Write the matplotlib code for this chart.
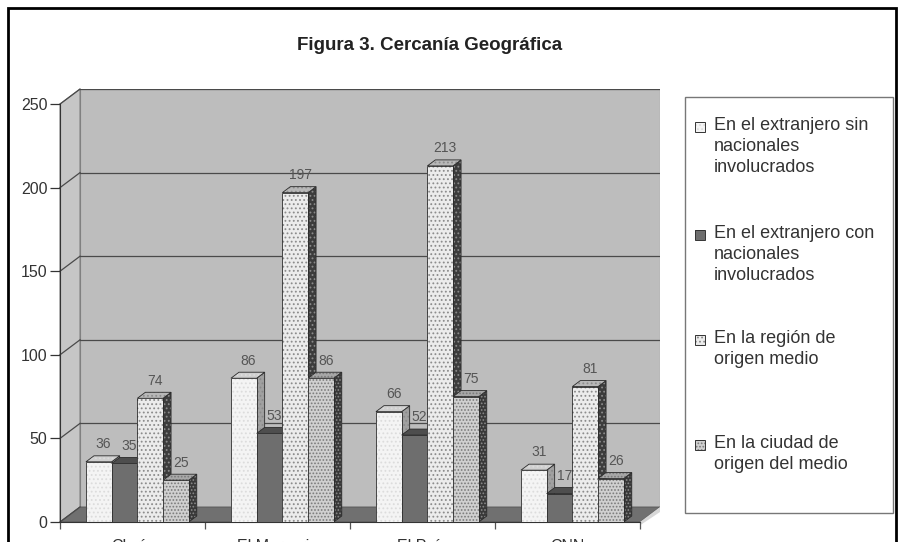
import matplotlib
matplotlib.use("Agg")
import matplotlib.pyplot as plt
from matplotlib.patches import Polygon, Rectangle

plt.rcParams["font.family"] = ["Liberation Sans", "DejaVu Sans"]
plt.rcParams["hatch.linewidth"] = 0.8

# ------------------ data ------------------
title = "Figura 3. Cercanía Geográfica"
categories = ["Clarín", "El Mercurio", "El País", "CNN"]
series_names = [
    "En el extranjero sin\nnacionales\ninvolucrados",
    "En el extranjero con\nnacionales\ninvolucrados",
    "En la región de\norigen medio",
    "En la ciudad de\norigen del medio",
]
sin_nacionales = [36, 86, 66, 31]
con_nacionales = [35, 53, 52, 17]
region_origen = [74, 197, 213, 81]
ciudad_origen = [25, 86, 75, 26]
values = [sin_nacionales, con_nacionales, region_origen, ciudad_origen]
yticks = [0, 50, 100, 150, 200, 250]

# ------------------ styles ------------------
# (front, hatch, hatch colour, side, top)
styles = [
    ("#f4f4f4", "....", "#dcdcdc", "#a0a0a0", "#cfcfcf"),
    ("#6e6e6e", None, None, "#3a3a3a", "#4e4e4e"),
    ("#ececec", "....", "#8c8c8c", "#3c3c3c", "#b8b8b8"),
    ("#d0d0d0", ".....", "#7a7a7a", "#383838", "#a8a8a8"),
]

W, H = 900, 542
fig = plt.figure(figsize=(W / 100, H / 100), dpi=100)

# axes: front axis from x=60..660px, value 0 at y=522px
ax = fig.add_axes([60 / W, 20 / H, 600 / W, 433 / H])
WDX, WDY = 20 / 145, 15 / 1.672   # wall depth offset (cat units, value units)
BDX, BDY = 8 / 145, 6 / 1.672     # bar depth offset
BW = 25.7 / 145                   # bar width
GSTART = 0.179                    # first bar offset in each group
ncat = len(categories)
ax.set_xlim(0, ncat + WDX)
ax.set_ylim(0, 259)

# back wall
ax.add_patch(Rectangle((WDX, WDY), ncat, 250, facecolor="#bdbdbd",
                       edgecolor="#808080", lw=0.8, zorder=0))
# left side wall
ax.add_patch(Polygon([(0, 0), (WDX, WDY), (WDX, 250 + WDY), (0, 250)],
                     closed=True, facecolor="#c6c6c6", edgecolor="#808080",
                     lw=0.8, zorder=0.5, clip_on=False))
# floor
ax.add_patch(Polygon([(0, 0), (ncat, 0), (ncat + WDX, WDY), (WDX, WDY)],
                     closed=True, facecolor="#707070", edgecolor="#555555",
                     lw=0.6, zorder=0.6))
ax.add_patch(Polygon([(ncat, 0), (ncat + WDX, WDY), (ncat + WDX, WDY - 3), (ncat, -2)],
                     closed=True, facecolor="#d8d8d8", edgecolor="none",
                     zorder=0.6, clip_on=False))

# gridlines on the wall + diagonal connectors on the side wall
for v in yticks[1:]:
    ax.plot([WDX, ncat + WDX], [v + WDY, v + WDY], color="#4a4a4a", lw=0.9, zorder=0.7)
for v in yticks:
    ax.plot([0, WDX], [v, v + WDY], color="#4a4a4a", lw=0.9, zorder=0.7, clip_on=False)


def face(pts, fc, hatch, hc, z):
    ax.add_patch(Polygon(pts, closed=True, facecolor=fc, edgecolor=hc if hatch else fc,
                         lw=0, hatch=hatch, zorder=z))
    ax.add_patch(Polygon(pts, closed=True, fill=False, edgecolor="#2a2a2a",
                         lw=0.6, zorder=z + 0.01))


z = 2
for g in range(ncat):
    for s in range(len(values)):
        h = values[s][g]
        fc, hatch, hc, side, top = styles[s]
        x0 = g + GSTART + s * BW
        x1 = x0 + BW
        face([(x1, 0), (x1 + BDX, BDY), (x1 + BDX, h + BDY), (x1, h)],
             side, hatch, "#8a8a8a" if hatch else None, z)
        face([(x0, h), (x1, h), (x1 + BDX, h + BDY), (x0 + BDX, h + BDY)],
             top, hatch, hc, z + 0.1)
        face([(x0, 0), (x1, 0), (x1, h), (x0, h)], fc, hatch, hc, z + 0.2)
        ax.text(x0 + BW / 2 + BDX * 0.6, h + BDY + 7, str(h), ha="center",
                va="center", fontsize=10, color="#555555", zorder=z + 0.5)
        z += 1

# axes / ticks
for sp in ["top", "right"]:
    ax.spines[sp].set_visible(False)
ax.spines["left"].set_bounds(0, 250)
ax.spines["bottom"].set_bounds(0, ncat)
ax.spines["left"].set_color("#333333")
ax.spines["bottom"].set_color("#333333")
ax.spines["left"].set_zorder(1)
ax.set_yticks(yticks)
ax.set_yticklabels([str(v) for v in yticks], fontsize=11.5, color="#333333")
ax.tick_params(axis="y", length=7, width=0.9, color="#333333", pad=2)
ax.set_xticks([g + 0.5 for g in range(ncat)])
ax.set_xticklabels(categories, fontsize=11.5, color="#333333")
ax.set_xticks(list(range(ncat + 1)), minor=True)
ax.tick_params(axis="x", which="major", length=0, pad=12.5)
ax.tick_params(axis="x", which="minor", length=5, width=0.9, color="#555555")

# title
fig.text(297 / W, 1 - 46 / H, title, ha="left", va="center",
         fontsize=13.5, fontweight="bold", color="#222222")

# legend box (manual)
fig.add_artist(Rectangle((685 / W, 1 - 513 / H), 208 / W, 416 / H,
                         transform=fig.transFigure, facecolor="white",
                         edgecolor="#777777", lw=1))
entry_y = [127, 235, 340, 445]
for i, name in enumerate(series_names):
    fc, hatch, hc, side, top = styles[i]
    y = entry_y[i]
    fig.add_artist(Rectangle((695 / W, 1 - (y + 5) / H), 10 / W, 10 / H,
                             transform=fig.transFigure, facecolor=fc,
                             edgecolor=hc if hatch else fc, lw=0, hatch=hatch))
    fig.add_artist(Rectangle((695 / W, 1 - (y + 5) / H), 10 / W, 10 / H,
                             transform=fig.transFigure, fill=False,
                             edgecolor="#333333", lw=0.7))
    fig.text(714 / W, 1 - (y - 10) / H, name, ha="left", va="top",
             fontsize=13, color="#333333", linespacing=1.3)

# outer frame
fig.add_artist(Rectangle((8 / W, -0.05), 888 / W, 1 - 8 / H + 0.05,
                         transform=fig.transFigure, fill=False,
                         edgecolor="black", lw=2))

fig.savefig("out.png", dpi=100)
